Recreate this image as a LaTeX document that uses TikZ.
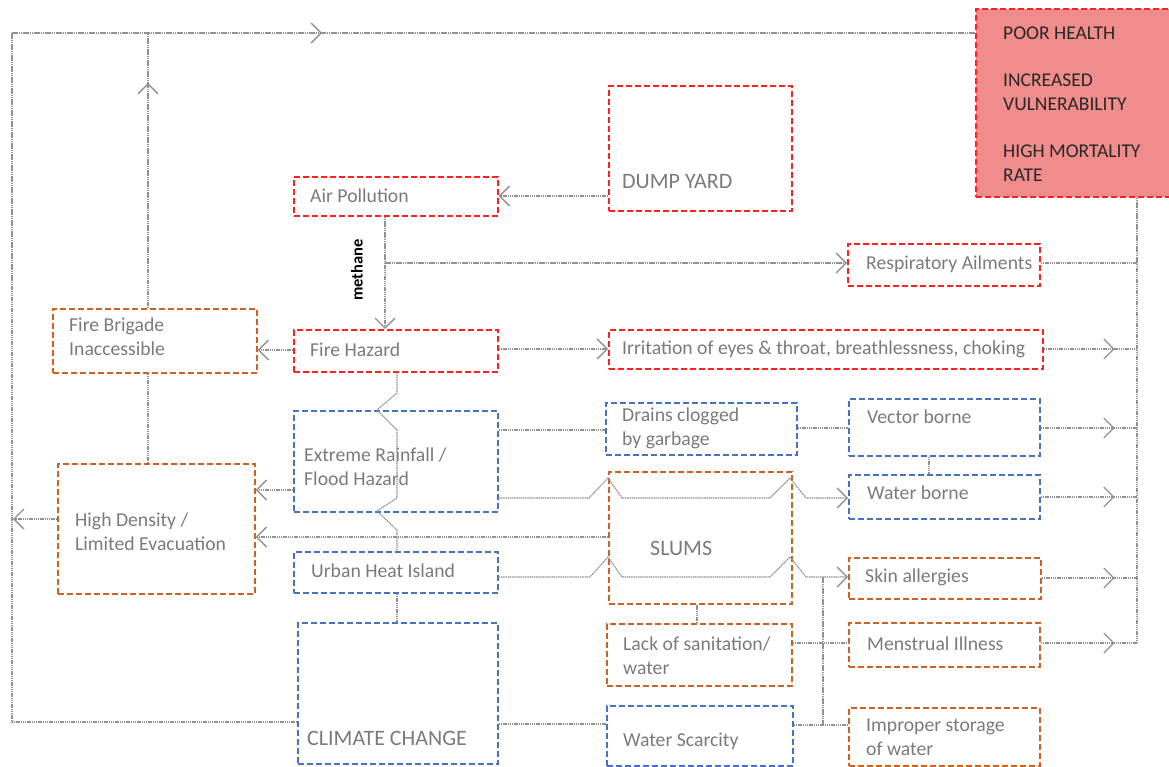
\documentclass[tikz,border=0pt]{standalone}
\usepackage{fontspec}
\setmainfont{Carlito}
\usetikzlibrary{arrows.meta,decorations.markings}
\definecolor{bred}{RGB}{255,32,32}
\definecolor{bblue}{RGB}{68,114,196}
\definecolor{borange}{RGB}{206,98,36}
\definecolor{txtgray}{RGB}{122,122,122}
\definecolor{lngray}{RGB}{145,145,145}
\definecolor{pinkfill}{RGB}{240,140,140}
\begin{document}
\begin{tikzpicture}[x=1pt,y=-1pt,
  >={Straight Barb[length=10pt,width=20pt,line width=1.3pt]},
  box/.style={draw, line width=1.7pt, dash pattern=on 6pt off 3pt, inner sep=0pt, anchor=north west},
  redbox/.style={box, draw=bred},
  bluebox/.style={box, draw=bblue},
  orgbox/.style={box, draw=borange},
  conn/.style={draw=lngray, line width=1.1pt, dash pattern=on 1.5pt off 0.7pt},
  midarrow/.style={postaction={decorate}, decoration={markings, mark=at position #1 with {\arrow{>}}}},
  lbl/.style={inner sep=0pt, anchor=west, align=left, text=txtgray, font=\fontsize{19.7}{24}\selectfont},
  biglbl/.style={inner sep=0pt, anchor=west, align=left, text=txtgray, font=\fontsize{22}{26}\selectfont},
]
\useasboundingbox (0,0) rectangle (1169,767);

% boxes
\node[redbox, fill=pinkfill, minimum width=200pt, minimum height=188pt] (poor) at (975,8) {};
\node[redbox, minimum width=183pt, minimum height=125pt] (dump) at (608,85) {};
\node[redbox, minimum width=204pt, minimum height=39pt] (air) at (293,176) {};
\node[redbox, minimum width=192pt, minimum height=42pt] (resp) at (847,243) {};
\node[redbox, minimum width=204pt, minimum height=42pt] (fire) at (293,329) {};
\node[redbox, minimum width=434pt, minimum height=39pt] (irr) at (608,329) {};
\node[orgbox, minimum width=204pt, minimum height=64pt] (brig) at (52,308) {};
\node[bluebox, minimum width=204pt, minimum height=101pt] (rain) at (293,410) {};
\node[bluebox, minimum width=191pt, minimum height=52pt] (drain) at (605,402) {};
\node[bluebox, minimum width=191pt, minimum height=57pt] (vec) at (848,398) {};
\node[bluebox, minimum width=191pt, minimum height=44pt] (wat) at (848,474) {};
\node[orgbox, minimum width=197pt, minimum height=130pt] (hd) at (57,463) {};
\node[orgbox, minimum width=183pt, minimum height=132pt] (slums) at (608,471) {};
\node[bluebox, minimum width=204pt, minimum height=41pt] (uhi) at (293,551) {};
\node[orgbox, minimum width=185pt, minimum height=62pt] (lack) at (606,623) {};
\node[orgbox, minimum width=192pt, minimum height=41pt] (skin) at (848,557) {};
\node[orgbox, minimum width=191pt, minimum height=44pt] (men) at (848,622) {};
\node[bluebox, minimum width=200pt, minimum height=141pt] (cc) at (297,622) {};
\node[bluebox, minimum width=186pt, minimum height=60pt] (ws) at (606,705) {};
\node[orgbox, minimum width=191pt, minimum height=58pt] (imp) at (848,707) {};

% labels
\node[inner sep=0pt, anchor=north west, align=left, text={rgb,255:red,40;green,40;blue,40}, font=\fontsize{19.5}{24.5}\selectfont] (tpoor) at (1003,27)
  {POOR HEALTH\\[22pt]INCREASED\\VULNERABILITY\\[22pt]HIGH MORTALITY\\RATE};
\node[biglbl] (tdump) at (622,182) {DUMP YARD};
\node[lbl] (tair) at (310,196) {Air Pollution};
\node[lbl] (tresp) at (866,264) {Respiratory Ailments};
\node[lbl] (tfire) at (310,350) {Fire Hazard};
\node[lbl] (tirr) at (622,349) {Irritation of eyes \& throat, breathlessness, choking};
\node[lbl] (tbrig) at (69,337) {Fire Brigade\\Inaccessible};
\node[lbl] (train) at (304,467) {Extreme Rainfall /\\Flood Hazard};
\node[lbl] (tdrain) at (622,428) {Drains clogged\\by garbage};
\node[lbl] (tvec) at (867,417) {Vector borne};
\node[lbl] (twat) at (867,493) {Water borne};
\node[lbl] (thd) at (75,532) {High Density /\\Limited Evacuation};
\node[biglbl] (tslums) at (650,548) {SLUMS};
\node[lbl] (tuhi) at (311,571) {Urban Heat Island};
\node[lbl] (tlack) at (623,656) {Lack of sanitation/\\water};
\node[lbl] (tskin) at (865,577) {Skin allergies};
\node[lbl] (tmen) at (867,644) {Menstrual Illness};
\node[biglbl] (tcc) at (307,738) {CLIMATE CHANGE};
\node[lbl] (tws) at (623,741) {Water Scarcity};
\node[lbl] (timp) at (866,737) {Improper storage\\of water};

% connectors
\coordinate (lb) at (12,722);
\coordinate (lt) at (12,33);
\draw[conn] (cc.west |- lb) -- (lb) -- (lt);
\draw[conn, midarrow=310pt] (lt) -- (lt -| poor.west);
\draw[conn, ->] (hd.west |- 0,519) -- (13,519);
\draw[conn, midarrow=225pt] (brig.north -| 148,0) -- (148,33);
\draw[conn] (hd.north -| 148,0) -- (brig.south -| 148,0);
\draw[conn, ->] (dump.west |- 0,196) -- (air.east |- 0,196);
\draw[conn, ->] (air.south -| 385,0) -- (fire.north -| 385,0);
\node[rotate=90, inner sep=1pt, fill=white, font=\fontsize{16.5}{19}\selectfont\bfseries] (meth) at (357,270) {methane};
\draw[conn, ->] (385,263) -- (resp.west |- 0,263);
\draw[conn, ->] (fire.west |- 0,350) -- (brig.east |- 0,350);
\draw[conn, ->] (fire.east |- 0,349) -- (irr.west |- 0,349);
\draw[conn] (poor.south -| 1137,0) -- (1137,643);
\draw[conn] (resp.east |- 0,263) -- (1137,263);
\draw[conn, midarrow=71pt] (irr.east |- 0,349) -- (1137,349);
\draw[conn, midarrow=74pt] (vec.east |- 0,428) -- (1137,428);
\draw[conn, midarrow=74pt] (wat.east |- 0,497) -- (1137,497);
\draw[conn, midarrow=73pt] (skin.east |- 0,578) -- (1137,578);
\draw[conn, midarrow=74pt] (men.east |- 0,643) -- (1137,643);
\draw[conn] (fire.south -| 397,0) -- (397,393) -- (377,410) -- (397,430) -- (397,498) -- (377,511) -- (397,530) -- (uhi.north -| 397,0);
\draw[conn] (uhi.south -| 397,0) -- (cc.north -| 397,0);
\draw[conn] (rain.east |- 0,430) -- (drain.west |- 0,430);
\draw[conn] (drain.east |- 0,428) -- (vec.west |- 0,428);
\draw[conn] (vec.south -| 929,0) -- (wat.north -| 929,0);
\draw[conn, ->] (rain.west |- 0,490) -- (hd.east |- 0,490);
\draw[conn, ->] (rain.east |- 0,498) -- (589,498) -- (608,478) -- (622,498) -- (770,498) -- (790,478) -- (806,498) -- (wat.west |- 0,498);
\draw[conn, ->] (uhi.east |- 0,577) -- (590,577) -- (608,557) -- (622,577) -- (770,577) -- (790,557) -- (806,577) -- (skin.west |- 0,577);
\draw[conn, ->] (slums.west |- 0,537) -- (hd.east |- 0,537);
\draw[conn] (lack.north -| 697,0) -- (slums.south -| 697,0);
\draw[conn] (lack.east |- 0,643) -- (men.west |- 0,643);
\draw[conn] (823,577) -- (823,725);
\draw[conn] (ws.east |- 0,725) -- (imp.west |- 0,725);
\draw[conn] (cc.east |- 0,724) -- (ws.west |- 0,724);
\end{tikzpicture}
\end{document}
